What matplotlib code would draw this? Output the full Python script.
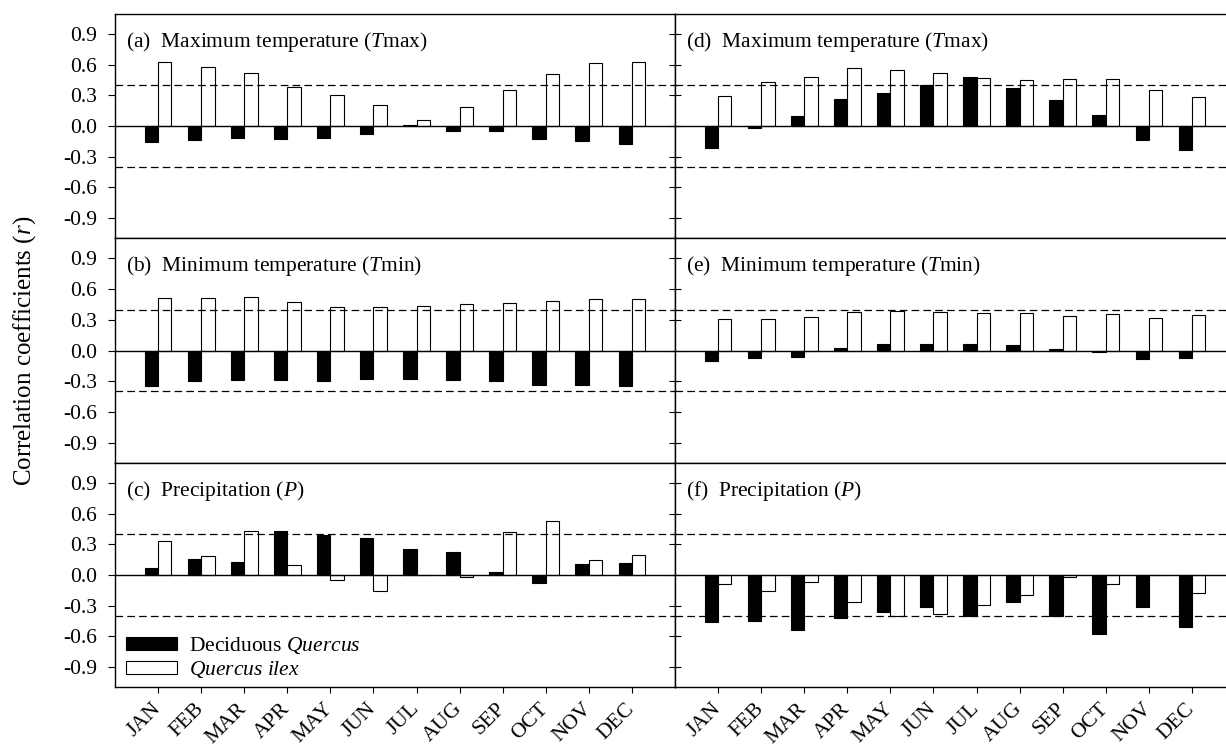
import matplotlib
matplotlib.use('Agg')
import matplotlib.pyplot as plt
import numpy as np

months = ['JAN', 'FEB', 'MAR', 'APR', 'MAY', 'JUN', 'JUL', 'AUG', 'SEP', 'OCT', 'NOV', 'DEC']

# Left column
a_deciduous = [-0.16, -0.14, -0.12, -0.13, -0.12, -0.08, 0.01, -0.05, -0.05, -0.13, -0.15, -0.18]
a_ilex      = [0.63, 0.58, 0.52, 0.38, 0.30, 0.21, 0.06, 0.19, 0.35, 0.51, 0.62, 0.63]
b_deciduous = [-0.35, -0.30, -0.29, -0.29, -0.30, -0.28, -0.28, -0.29, -0.30, -0.34, -0.34, -0.35]
b_ilex      = [0.51, 0.51, 0.52, 0.47, 0.43, 0.43, 0.44, 0.45, 0.46, 0.48, 0.50, 0.50]
c_deciduous = [0.065, 0.16, 0.13, 0.43, 0.39, 0.36, 0.26, 0.23, 0.03, -0.08, 0.11, 0.12]
c_ilex      = [0.33, 0.19, 0.43, 0.10, -0.05, -0.155, 0.0, -0.015, 0.42, 0.53, 0.15, 0.195]

# Right column
d_deciduous = [-0.22, -0.02, 0.10, 0.27, 0.325, 0.40, 0.48, 0.375, 0.26, 0.11, -0.14, -0.235]
d_ilex      = [0.29, 0.43, 0.48, 0.57, 0.55, 0.52, 0.47, 0.45, 0.46, 0.46, 0.35, 0.28]
e_deciduous = [-0.10, -0.075, -0.06, 0.02, 0.065, 0.065, 0.065, 0.055, 0.01, -0.015, -0.08, -0.075]
e_ilex      = [0.31, 0.31, 0.33, 0.38, 0.385, 0.38, 0.37, 0.37, 0.34, 0.36, 0.32, 0.35]
f_deciduous = [-0.46, -0.45, -0.54, -0.42, -0.36, -0.31, -0.40, -0.27, -0.40, -0.58, -0.31, -0.51]
f_ilex      = [-0.09, -0.16, -0.07, -0.27, -0.40, -0.38, -0.29, -0.20, -0.015, -0.085, 0.0, -0.18]

titles = ['(a)  Maximum temperature ($\\mathit{T}$max)',
          '(b)  Minimum temperature ($\\mathit{T}$min)',
          '(c)  Precipitation ($\\mathit{P}$)',
          '(d)  Maximum temperature ($\\mathit{T}$max)',
          '(e)  Minimum temperature ($\\mathit{T}$min)',
          '(f)  Precipitation ($\\mathit{P}$)']

sig_levels = [0.4, -0.4]
yticks = [-0.9, -0.6, -0.3, 0.0, 0.3, 0.6, 0.9]
ytick_labels = ['-0.9', '-0.6', '-0.3', '0.0', '0.3', '0.6', '0.9']
legend_labels = ['Deciduous $\\mathit{Quercus}$', '$\\mathit{Quercus\\ ilex}$']

plt.rcParams['font.family'] = ['Liberation Serif', 'DejaVu Serif']
plt.rcParams['mathtext.fontset'] = 'custom'
plt.rcParams['mathtext.rm'] = 'Liberation Serif'
plt.rcParams['mathtext.it'] = 'Liberation Serif:italic'
plt.rcParams['lines.scale_dashes'] = False

W, H = 1226, 751
fig = plt.figure(figsize=(W / 100, H / 100), dpi=100)


def rect(x0, x1, y0, y1):
    return [x0 / W, 1 - y1 / H, (x1 - x0) / W, (y1 - y0) / H]


rows = [(14, 238), (238, 463), (463, 687)]
cols = [(115, 675), (675, 1226)]
data = [[(a_deciduous, a_ilex), (b_deciduous, b_ilex), (c_deciduous, c_ilex)],
        [(d_deciduous, d_ilex), (e_deciduous, e_ilex), (f_deciduous, f_ilex)]]

x = np.arange(1, len(months) + 1)
bw = 0.31
fs = 15.5

for ci, (cx0, cx1) in enumerate(cols):
    for ri, (ry0, ry1) in enumerate(rows):
        ax = fig.add_axes(rect(cx0, cx1, ry0, ry1))
        dec, ilex = data[ci][ri]
        h1 = ax.bar(x, dec, width=-bw, align='edge', color='black', edgecolor='black', linewidth=0.8)
        h2 = ax.bar(x, ilex, width=bw, align='edge', color='white', edgecolor='black', linewidth=0.8)
        ax.axhline(0, color='black', linewidth=1.0, zorder=3)
        for s in sig_levels:
            ax.axhline(s, color='black', linewidth=0.9, dashes=(5.5, 3.0), zorder=1)
        ax.set_ylim(-1.1, 1.1)
        ax.set_xlim(0, 13 if ci == 0 else (cx1 - cx0) / 43.08)
        ax.set_yticks(yticks)
        ax.set_xticks(x)
        for sp in ax.spines.values():
            sp.set_linewidth(1.0)
        if ci == 1:
            ax.spines['right'].set_visible(False)
        if ci == 0:
            ax.set_yticklabels(ytick_labels, fontsize=fs)
            ax.tick_params(axis='y', direction='out', length=5, width=0.8, pad=8)
        else:
            ax.set_yticklabels([])
            ax.tick_params(axis='y', direction='inout', length=8, width=0.8)
        if ri == 2:
            ax.set_xticklabels(months, fontsize=fs, rotation=45, ha='right', va='center',
                               rotation_mode='anchor')
            ax.tick_params(axis='x', direction='out', length=4, width=0.8, pad=9.7)
        else:
            ax.set_xticklabels([])
            ax.tick_params(axis='x', direction='out', length=4, width=0.8)
        ax.annotate(titles[ci * 3 + ri], xy=(0, 1), xycoords='axes fraction',
                    xytext=(11, -28), textcoords='offset pixels',
                    ha='left', va='center', fontsize=fs)
        if ci == 0 and ri == 2:
            ax.legend(handles=[h1, h2], labels=legend_labels, loc='lower left',
                      bbox_to_anchor=(0.0196, 0.031), frameon=False, borderpad=0,
                      borderaxespad=0, handlelength=2.37, handleheight=0.56,
                      handletextpad=0.56, labelspacing=0.15, fontsize=fs)

fig.text(25 / W, 1 - 351 / H, 'Correlation coefficients ($\\mathit{r}$)', rotation=90,
         ha='center', va='center', fontsize=18)

fig.savefig('out.png', dpi=100)
